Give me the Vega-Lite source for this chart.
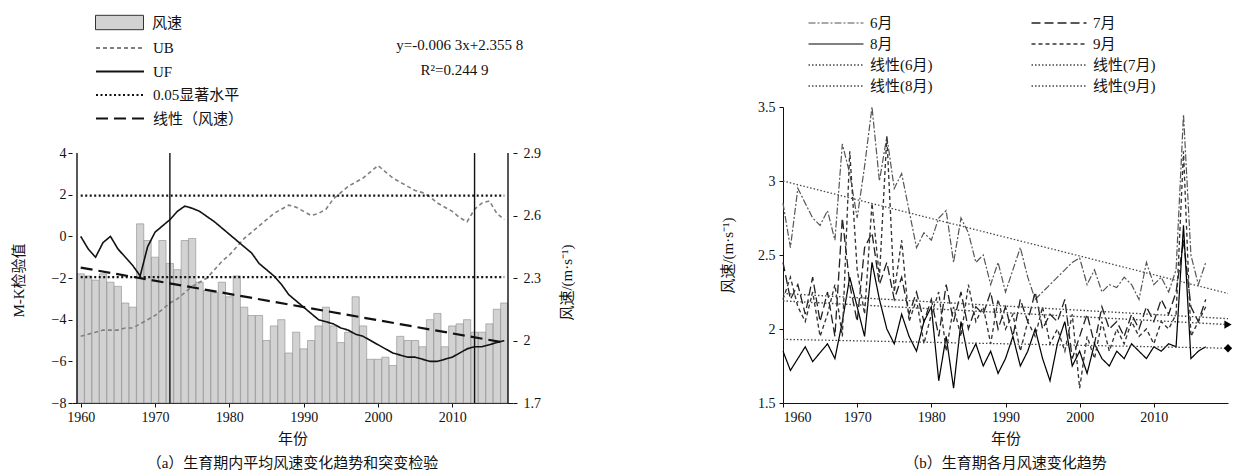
{
"$schema": "https://vega.github.io/schema/vega-lite/v6.json",
"background": "white",
"padding": {"left": 11, "top": 10, "right": 5, "bottom": 2},
"spacing": 145,
"config": {
  "view": {"stroke": null},
  "font": "Liberation Serif, Noto Sans CJK SC",
  "axis": {"labelFont": "Liberation Serif, Noto Sans CJK SC", "labelFontSize": 14, "titleFont": "Liberation Serif, Noto Sans CJK SC", "titleFontSize": 15, "titleFontWeight": "normal", "grid": false, "tickSize": 4, "domainColor": "#111", "tickColor": "#111", "labelColor": "#111", "titleColor": "#111"},
  "legend": {"labelFont": "Liberation Serif, Noto Sans CJK SC", "labelFontSize": 15, "labelColor": "#111"},
  "title": {"font": "Liberation Serif, Noto Sans CJK SC", "fontSize": 15, "fontWeight": "normal", "color": "#111"}
},
"datasets": {
  "a": [
    {"year":1960,"ws":2.32,"UF":0,"UB":-4.8},{"year":1961,"ws":2.31,"UF":-0.6,"UB":-4.7},{"year":1962,"ws":2.29,"UF":-1.0,"UB":-4.6},{"year":1963,"ws":2.32,"UF":-0.3,"UB":-4.5},{"year":1964,"ws":2.28,"UF":0.0,"UB":-4.5},{"year":1965,"ws":2.26,"UF":-0.6,"UB":-4.5},{"year":1966,"ws":2.18,"UF":-1.0,"UB":-4.4},{"year":1967,"ws":2.16,"UF":-1.4,"UB":-4.4},{"year":1968,"ws":2.56,"UF":-1.9,"UB":-4.2},{"year":1969,"ws":2.48,"UF":-0.5,"UB":-4.0},
    {"year":1970,"ws":2.40,"UF":0.2,"UB":-3.8},{"year":1971,"ws":2.48,"UF":0.5,"UB":-3.5},{"year":1972,"ws":2.37,"UF":0.8,"UB":-3.2},{"year":1973,"ws":2.34,"UF":1.2,"UB":-3.0},{"year":1974,"ws":2.48,"UF":1.45,"UB":-2.7},{"year":1975,"ws":2.49,"UF":1.35,"UB":-2.4},{"year":1976,"ws":2.28,"UF":1.2,"UB":-2.2},{"year":1977,"ws":2.24,"UF":0.95,"UB":-2.0},{"year":1978,"ws":2.23,"UF":0.7,"UB":-1.6},{"year":1979,"ws":2.28,"UF":0.4,"UB":-1.2},
    {"year":1980,"ws":2.21,"UF":0.1,"UB":-0.9},{"year":1981,"ws":2.31,"UF":-0.2,"UB":-0.5},{"year":1982,"ws":2.16,"UF":-0.5,"UB":-0.1},{"year":1983,"ws":2.12,"UF":-0.8,"UB":0.2},{"year":1984,"ws":2.12,"UF":-1.3,"UB":0.5},{"year":1985,"ws":2.00,"UF":-1.6,"UB":0.8},{"year":1986,"ws":2.07,"UF":-1.9,"UB":1.1},{"year":1987,"ws":2.10,"UF":-2.3,"UB":1.3},{"year":1988,"ws":1.94,"UF":-2.8,"UB":1.5},{"year":1989,"ws":2.04,"UF":-3.1,"UB":1.4},
    {"year":1990,"ws":1.96,"UF":-3.4,"UB":1.2},{"year":1991,"ws":2.00,"UF":-3.7,"UB":1.0},{"year":1992,"ws":2.07,"UF":-4.0,"UB":1.1},{"year":1993,"ws":2.16,"UF":-4.1,"UB":1.3},{"year":1994,"ws":2.07,"UF":-4.2,"UB":1.8},{"year":1995,"ws":1.99,"UF":-4.4,"UB":2.1},{"year":1996,"ws":2.04,"UF":-4.5,"UB":2.4},{"year":1997,"ws":2.21,"UF":-4.7,"UB":2.6},{"year":1998,"ws":2.07,"UF":-4.8,"UB":2.8},{"year":1999,"ws":1.91,"UF":-5.0,"UB":3.1},
    {"year":2000,"ws":1.91,"UF":-5.2,"UB":3.4},{"year":2001,"ws":1.92,"UF":-5.4,"UB":3.1},{"year":2002,"ws":1.88,"UF":-5.6,"UB":2.8},{"year":2003,"ws":2.02,"UF":-5.7,"UB":2.6},{"year":2004,"ws":2.00,"UF":-5.8,"UB":2.4},{"year":2005,"ws":2.00,"UF":-5.8,"UB":2.2},{"year":2006,"ws":1.97,"UF":-5.9,"UB":2.1},{"year":2007,"ws":2.10,"UF":-6.0,"UB":1.9},{"year":2008,"ws":2.13,"UF":-6.0,"UB":1.6},{"year":2009,"ws":1.97,"UF":-5.9,"UB":1.4},
    {"year":2010,"ws":2.07,"UF":-5.8,"UB":1.2},{"year":2011,"ws":2.08,"UF":-5.6,"UB":0.9},{"year":2012,"ws":2.10,"UF":-5.4,"UB":0.7},{"year":2013,"ws":2.04,"UF":-5.3,"UB":1.3},{"year":2014,"ws":2.04,"UF":-5.3,"UB":1.6},{"year":2015,"ws":2.08,"UF":-5.2,"UB":1.7},{"year":2016,"ws":2.15,"UF":-5.1,"UB":1.1},{"year":2017,"ws":2.18,"UF":-5.0,"UB":0.8}
  ],
  "sig": [
    {"s":"0.05显著水平","g":"上","year":1960,"v":1.96},{"s":"0.05显著水平","g":"上","year":2017,"v":1.96},
    {"s":"0.05显著水平","g":"下","year":1960,"v":-1.96},{"s":"0.05显著水平","g":"下","year":2017,"v":-1.96}
  ],
  "trendA": [
    {"s":"线性（风速）","year":1960,"ws":2.35},{"s":"线性（风速）","year":2017,"ws":1.99}
  ],
  "vlines": [{"year":1959.5},{"year":2017.5},{"year":1972},{"year":2013}],
  "b": [
    {"year":1960,"6月":2.85,"7月":2.45,"8月":1.85,"9月":2.20},{"year":1961,"6月":2.55,"7月":2.20,"8月":1.72,"9月":2.35},{"year":1962,"6月":2.95,"7月":2.30,"8月":1.80,"9月":2.15},{"year":1963,"6月":2.85,"7月":2.10,"8月":1.88,"9月":2.05},{"year":1964,"6月":2.75,"7月":2.35,"8月":1.78,"9月":2.25},{"year":1965,"6月":2.70,"7月":2.05,"8月":1.84,"9月":1.95},{"year":1966,"6月":2.80,"7月":2.25,"8月":1.90,"9月":2.10},{"year":1967,"6月":2.60,"7月":1.95,"8月":1.80,"9月":2.30},{"year":1968,"6月":3.25,"7月":2.75,"8月":2.05,"9月":1.95},{"year":1969,"6月":3.05,"7月":2.30,"8月":2.35,"9月":3.20},
    {"year":1970,"6月":2.75,"7月":2.05,"8月":2.15,"9月":2.40},{"year":1971,"6月":3.10,"7月":2.55,"8月":1.95,"9月":2.10},{"year":1972,"6月":3.50,"7月":2.65,"8月":2.45,"9月":2.85},{"year":1973,"6月":3.00,"7月":2.30,"8月":2.20,"9月":2.35},{"year":1974,"6月":3.30,"7月":2.45,"8月":2.00,"9月":3.30},{"year":1975,"6月":2.95,"7月":2.20,"8月":1.90,"9月":2.25},{"year":1976,"6月":3.05,"7月":2.35,"8月":2.10,"9月":2.60},{"year":1977,"6月":2.80,"7月":2.10,"8月":1.95,"9月":2.05},{"year":1978,"6月":2.55,"7月":2.25,"8月":1.85,"9月":2.20},{"year":1979,"6月":2.65,"7月":2.05,"8月":2.05,"9月":1.90},
    {"year":1980,"6月":2.60,"7月":2.20,"8月":2.15,"9月":2.10},{"year":1981,"6月":2.75,"7月":1.95,"8月":1.65,"9月":2.25},{"year":1982,"6月":2.80,"7月":2.30,"8月":1.95,"9月":1.85},{"year":1983,"6月":2.45,"7月":2.05,"8月":1.60,"9月":2.15},{"year":1984,"6月":2.75,"7月":2.25,"8月":2.05,"9月":1.95},{"year":1985,"6月":2.65,"7月":2.00,"8月":1.80,"9月":2.30},{"year":1986,"6月":2.45,"7月":2.15,"8月":1.90,"9月":2.05},{"year":1987,"6月":2.50,"7月":2.10,"8月":1.75,"9月":2.15},{"year":1988,"6月":2.30,"7月":2.25,"8月":1.85,"9月":1.90},{"year":1989,"6月":2.45,"7月":2.00,"8月":1.70,"9月":2.20},
    {"year":1990,"6月":2.25,"7月":2.15,"8月":1.80,"9月":2.00},{"year":1991,"6月":2.40,"7月":1.95,"8月":1.95,"9月":2.10},{"year":1992,"6月":2.55,"7月":2.20,"8月":1.75,"9月":1.85},{"year":1993,"6月":2.35,"7月":2.05,"8月":1.85,"9月":2.05},{"year":1994,"6月":2.20,"7月":2.25,"8月":2.00,"9月":1.95},{"year":1995,"6月":2.25,"7月":2.00,"8月":1.80,"9月":2.15},{"year":1996,"6月":2.30,"7月":2.10,"8月":1.65,"9月":1.90},{"year":1997,"6月":2.35,"7月":2.05,"8月":1.90,"9月":2.00},{"year":1998,"6月":2.40,"7月":2.20,"8月":2.05,"9月":1.85},{"year":1999,"6月":2.45,"7月":1.80,"8月":1.75,"9月":2.10},
    {"year":2000,"6月":2.48,"7月":1.95,"8月":1.85,"9月":1.60},{"year":2001,"6月":2.30,"7月":2.10,"8月":1.70,"9月":1.95},{"year":2002,"6月":2.40,"7月":1.90,"8月":1.90,"9月":1.80},{"year":2003,"6月":2.25,"7月":2.15,"8月":1.80,"9月":2.05},{"year":2004,"6月":2.30,"7月":2.00,"8月":1.75,"9月":1.85},{"year":2005,"6月":2.28,"7月":2.05,"8月":1.85,"9月":2.00},{"year":2006,"6月":2.35,"7月":1.95,"8月":1.80,"9月":1.90},{"year":2007,"6月":2.30,"7月":2.10,"8月":1.90,"9月":2.05},{"year":2008,"6月":2.20,"7月":2.00,"8月":1.85,"9月":1.95},{"year":2009,"6月":2.45,"7月":2.15,"8月":1.80,"9月":2.00},
    {"year":2010,"6月":2.30,"7月":2.05,"8月":1.88,"9月":1.90},{"year":2011,"6月":2.35,"7月":2.20,"8月":1.85,"9月":2.05},{"year":2012,"6月":2.25,"7月":2.10,"8月":1.90,"9月":2.00},{"year":2013,"6月":2.40,"7月":2.25,"8月":1.88,"9月":2.10},{"year":2014,"6月":3.45,"7月":2.60,"8月":2.70,"9月":3.20},{"year":2015,"6月":2.50,"7月":2.15,"8月":1.80,"9月":1.95},{"year":2016,"6月":2.30,"7月":2.05,"8月":1.85,"9月":2.05},{"year":2017,"6月":2.45,"7月":2.20,"8月":1.88,"9月":2.15}
  ],
  "bt": [
    {"m":"线性(6月)","year":1960,"ws":3.0},{"m":"线性(6月)","year":2020,"ws":2.24},
    {"m":"线性(7月)","year":1960,"ws":2.24},{"m":"线性(7月)","year":2020,"ws":2.07},
    {"m":"线性(8月)","year":1960,"ws":1.93},{"m":"线性(8月)","year":2020,"ws":1.87},
    {"m":"线性(9月)","year":1960,"ws":2.19},{"m":"线性(9月)","year":2020,"ws":2.03}
  ],
  "bm": [
    {"m":"线性(8月)","year":2020,"ws":1.87},{"m":"线性(9月)","year":2020,"ws":2.03}
  ]
},
"resolve": {"scale": {"color": "independent", "strokeDash": "independent", "strokeWidth": "independent", "fill": "independent", "shape": "independent"}, "legend": {"color": "independent", "strokeDash": "independent", "strokeWidth": "independent", "fill": "independent", "shape": "independent"}},
"hconcat": [
  {
    "width": 441, "height": 296,
    "title": {"text": "（a）生育期内平均风速变化趋势和突变检验", "orient": "bottom", "offset": 10, "anchor": "middle"},
    "layer": [
      {
        "layer": [
          {
            "data": {"name": "a"},
            "mark": {"type": "bar", "width": 7.2, "stroke": "#8a8a8a", "strokeWidth": 0.6},
            "encoding": {
              "x": {"field": "year", "type": "quantitative", "scale": {"domain": [1959.5, 2017.5], "nice": false, "zero": false}, "axis": {"values": [1960, 1970, 1980, 1990, 2000, 2010], "format": "d", "title": "年份", "labelPadding": 3, "titlePadding": 7}},
              "y": {"field": "ws", "type": "quantitative", "scale": {"domain": [1.7, 3.121], "nice": false, "zero": false}, "axis": {"orient": "right", "values": [1.7, 2, 2.3, 2.6, 2.9], "format": ".1~f", "domain": false, "title": "风速/(m·s⁻¹)", "titleAngle": 270, "titleY": 175, "titlePadding": 34, "labelPadding": 6}},
              "y2": {"datum": 1.7},
              "fill": {"datum": "风速", "type": "nominal", "scale": {"domain": ["风速"], "range": ["#d2d2d2"]}, "legend": {"orient": "none", "legendX": 35, "legendY": -97, "title": null, "symbolType": "M-2,-0.6H2V0.6H-2Z", "symbolSize": 576, "symbolStrokeColor": "#333", "symbolStrokeWidth": 1, "labelOffset": 20}}
            }
          },
          {
            "data": {"name": "trendA"},
            "mark": {"type": "line", "strokeWidth": 2.2},
            "encoding": {
              "x": {"field": "year", "type": "quantitative"},
              "y": {"field": "ws", "type": "quantitative"},
              "color": {"field": "s", "type": "nominal"},
              "strokeDash": {"field": "s", "type": "nominal"}
            }
          },
          {
            "data": {"values": [{}]},
            "mark": {"type": "text", "fontSize": 15, "align": "center", "color": "#111"},
            "encoding": {"x": {"datum": 2011}, "y": {"datum": 3.419}, "text": {"value": "y=-0.006 3x+2.355 8"}}
          },
          {
            "data": {"values": [{}]},
            "mark": {"type": "text", "fontSize": 15, "align": "center", "color": "#111"},
            "encoding": {"x": {"datum": 2010.3}, "y": {"datum": 3.299}, "text": {"value": "R²=0.244 9"}}
          }
        ]
      },
      {
        "layer": [
          {
            "data": {"name": "a"},
            "transform": [{"fold": ["UB", "UF"], "as": ["s", "v"]}],
            "mark": {"type": "line", "strokeWidth": 1.6},
            "encoding": {
              "x": {"field": "year", "type": "quantitative"},
              "y": {"field": "v", "type": "quantitative", "scale": {"domain": [-8, 6.21], "nice": false, "zero": false}, "axis": {"orient": "left", "values": [-8, -6, -4, -2, 0, 2, 4], "format": "d", "domain": false, "title": "M-K检验值", "titleY": 173, "titlePadding": 25, "labelPadding": 2}},
              "color": {"field": "s", "type": "nominal", "scale": {"domain": ["UB", "UF", "0.05显著水平", "线性（风速）"], "range": ["#808080", "#111111", "#111111", "#111111"]}, "legend": {"orient": "none", "legendX": 35, "legendY": -72, "title": null, "symbolType": "M-2,0L2,0", "symbolSize": 576, "symbolStrokeWidth": 2, "labelOffset": 20, "rowPadding": 2.5}},
              "strokeDash": {"field": "s", "type": "nominal", "scale": {"domain": ["UB", "UF", "0.05显著水平", "线性（风速）"], "range": [[4, 3], [1, 0], [2, 2.5], [12, 6]]}, "legend": {"orient": "none", "legendX": 35, "legendY": -72, "title": null, "symbolType": "M-2,0L2,0", "symbolSize": 576, "symbolStrokeWidth": 2, "labelOffset": 20, "rowPadding": 2.5}}
            }
          },
          {
            "data": {"name": "sig"},
            "mark": {"type": "line", "strokeWidth": 2.2},
            "encoding": {
              "x": {"field": "year", "type": "quantitative"},
              "y": {"field": "v", "type": "quantitative"},
              "detail": {"field": "g"},
              "color": {"field": "s", "type": "nominal"},
              "strokeDash": {"field": "s", "type": "nominal"}
            }
          },
          {
            "data": {"name": "vlines"},
            "mark": {"type": "rule", "strokeWidth": 1.4, "color": "#111"},
            "encoding": {
              "x": {"field": "year", "type": "quantitative"},
              "y": {"datum": -8},
              "y2": {"datum": 4}
            }
          }
        ]
      }
    ],
    "resolve": {"scale": {"y": "independent"}}
  },
  {
    "width": 445, "height": 296,
    "title": {"text": "（b）生育期各月风速变化趋势", "orient": "bottom", "offset": 10, "anchor": "middle"},
    "layer": [
      {
        "data": {"name": "b"},
        "transform": [{"fold": ["6月", "7月", "8月", "9月"], "as": ["m", "ws"]}],
        "mark": {"type": "line"},
        "encoding": {
          "x": {"field": "year", "type": "quantitative", "scale": {"domain": [1960, 2020], "nice": false, "zero": false}, "axis": {"values": [1960, 1970, 1980, 1990, 2000, 2010], "format": "d", "title": "年份", "labelPadding": 3, "titlePadding": 7}},
          "y": {"field": "ws", "type": "quantitative", "scale": {"domain": [1.5, 3.5], "nice": false, "zero": false}, "axis": {"values": [1.5, 2, 2.5, 3, 3.5], "format": ".1~f", "title": "风速/(m·s⁻¹)", "titlePadding": 22, "labelPadding": 4}},
          "color": {"field": "m", "type": "nominal", "scale": {"domain": ["6月", "8月", "线性(6月)", "线性(8月)", "7月", "9月", "线性(7月)", "线性(9月)"], "range": ["#555555", "#000000", "#444444", "#444444", "#222222", "#333333", "#444444", "#444444"]}, "legend": {"orient": "none", "legendX": 43, "legendY": -94, "title": null, "columns": 2, "columnPadding": 95, "rowPadding": 3, "symbolType": "M-3,0L3,0", "symbolSize": 336, "symbolStrokeWidth": 1.6, "labelOffset": 24}},
          "strokeDash": {"field": "m", "type": "nominal", "scale": {"domain": ["6月", "8月", "线性(6月)", "线性(8月)", "7月", "9月", "线性(7月)", "线性(9月)"], "range": [[7, 2, 2, 2], [1, 0], [1.5, 2], [1.5, 2], [9, 4], [4, 3], [1.5, 2], [1.5, 2]]}, "legend": {"orient": "none", "legendX": 43, "legendY": -94, "title": null, "columns": 2, "columnPadding": 95, "rowPadding": 3, "symbolType": "M-3,0L3,0", "symbolSize": 336, "symbolStrokeWidth": 1.6, "labelOffset": 24}},
          "strokeWidth": {"field": "m", "type": "nominal", "scale": {"domain": ["6月", "8月", "线性(6月)", "线性(8月)", "7月", "9月", "线性(7月)", "线性(9月)"], "range": [1.2, 1.4, 2, 2, 1.2, 1.2, 2, 2]}, "legend": null}
        }
      },
      {
        "data": {"name": "bt"},
        "mark": {"type": "line"},
        "encoding": {
          "x": {"field": "year", "type": "quantitative"},
          "y": {"field": "ws", "type": "quantitative"},
          "color": {"field": "m", "type": "nominal"},
          "strokeDash": {"field": "m", "type": "nominal"},
          "strokeWidth": {"field": "m", "type": "nominal", "legend": null}
        }
      },
      {
        "data": {"name": "bm"},
        "mark": {"type": "point", "filled": true, "color": "#000", "size": 70, "opacity": 1},
        "encoding": {
          "x": {"field": "year", "type": "quantitative"},
          "y": {"field": "ws", "type": "quantitative"},
          "shape": {"field": "m", "type": "nominal", "scale": {"domain": ["线性(8月)", "线性(9月)"], "range": ["diamond", "triangle-right"]}, "legend": null}
        }
      }
    ]
  }
]
}
